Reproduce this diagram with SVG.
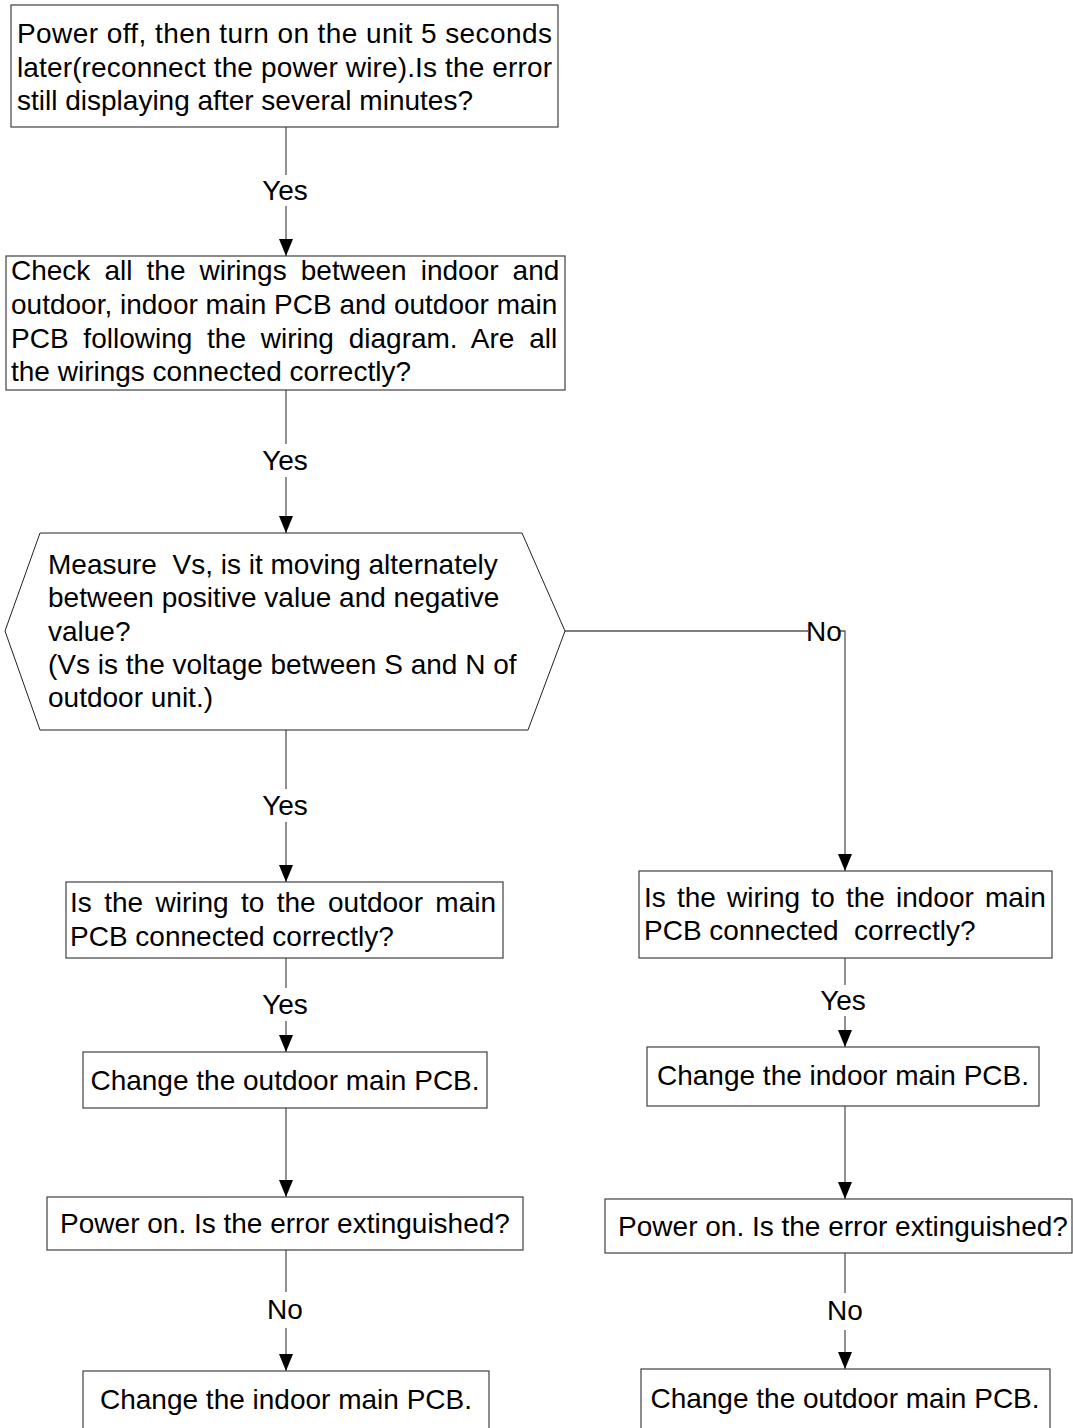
<svg xmlns="http://www.w3.org/2000/svg" width="1073" height="1428" viewBox="0 0 1073 1428">
<style>
text{font-family:"Liberation Sans",Arial,sans-serif;font-size:28px;fill:#000}
.box{fill:#fff;stroke:#404040;stroke-width:1.2}
.hex{fill:#fff;stroke:#222;stroke-width:1}
.c{fill:none;stroke:#555;stroke-width:1.3}
.lbl{text-anchor:middle}
.mid{text-anchor:middle}
</style>
<defs>
<marker id="ad" markerUnits="userSpaceOnUse" markerWidth="17" markerHeight="14" refX="17" refY="7" orient="auto" viewBox="0 0 17 14">
<path d="M0,0 L17,7 L0,14 Z" fill="#000"/>
</marker>
</defs>
<rect width="1073" height="1428" fill="#fff"/>

<g id="connectors">
<line class="c" x1="286" y1="127" x2="286" y2="175"/>
<line class="c" x1="286" y1="206" x2="286" y2="256" marker-end="url(#ad)"/>
<text class="lbl" x="285" y="200">Yes</text>

<line class="c" x1="286" y1="390" x2="286" y2="444"/>
<line class="c" x1="286" y1="477" x2="286" y2="533" marker-end="url(#ad)"/>
<text class="lbl" x="285" y="470">Yes</text>

<line class="c" x1="286" y1="730" x2="286" y2="789"/>
<line class="c" x1="286" y1="822" x2="286" y2="882" marker-end="url(#ad)"/>
<text class="lbl" x="285" y="815">Yes</text>

<polyline class="c" points="565,631 808,631"/>
<polyline class="c" points="840,631 845,631 845,871" marker-end="url(#ad)"/>
<text class="lbl" x="824" y="641">No</text>

<line class="c" x1="286" y1="958" x2="286" y2="988"/>
<line class="c" x1="286" y1="1021" x2="286" y2="1052" marker-end="url(#ad)"/>
<text class="lbl" x="285" y="1014">Yes</text>

<line class="c" x1="286" y1="1108" x2="286" y2="1197" marker-end="url(#ad)"/>

<line class="c" x1="286" y1="1250" x2="286" y2="1292"/>
<line class="c" x1="286" y1="1328" x2="286" y2="1371" marker-end="url(#ad)"/>
<text class="lbl" x="285" y="1319">No</text>

<line class="c" x1="845" y1="958" x2="845" y2="985"/>
<line class="c" x1="845" y1="1016" x2="845" y2="1047" marker-end="url(#ad)"/>
<text class="lbl" x="843" y="1010">Yes</text>

<line class="c" x1="845" y1="1106" x2="845" y2="1199" marker-end="url(#ad)"/>

<line class="c" x1="845" y1="1253" x2="845" y2="1293"/>
<line class="c" x1="845" y1="1330" x2="845" y2="1369" marker-end="url(#ad)"/>
<text class="lbl" x="845" y="1320">No</text>
</g>

<g id="n1">
<rect class="box" x="11" y="5" width="547" height="122"/>
<text x="17" y="43" textLength="535" lengthAdjust="spacing">Power off, then turn on the unit 5 seconds</text>
<text x="17" y="77" textLength="535" lengthAdjust="spacing">later(reconnect the power wire).Is the error</text>
<text x="17" y="110">still displaying after several minutes?</text>
</g>

<g id="n2">
<rect class="box" x="6" y="256" width="559" height="134"/>
<text x="11" y="280" word-spacing="6.3">Check all the wirings between indoor and</text>
<text x="11" y="314">outdoor, indoor main PCB and outdoor main</text>
<text x="11" y="348" word-spacing="7">PCB following the wiring diagram. Are all</text>
<text x="11" y="381">the wirings connected correctly?</text>
</g>

<g id="n3">
<polygon class="hex" points="40,533 522,533 565,631 528,730 40,730 5,631"/>
<text x="48" y="574" xml:space="preserve">Measure  Vs, is it moving alternately</text>
<text x="48" y="607">between positive value and negative</text>
<text x="48" y="641">value?</text>
<text x="48" y="674">(Vs is the voltage between S and N of</text>
<text x="48" y="707">outdoor unit.)</text>
</g>

<g id="n4">
<rect class="box" x="66" y="882" width="437" height="76"/>
<text x="70" y="912" word-spacing="4.6">Is the wiring to the outdoor main</text>
<text x="70" y="946">PCB connected correctly?</text>
</g>

<g id="n5">
<rect class="box" x="83" y="1052" width="404" height="56"/>
<text class="mid" x="285" y="1090">Change the outdoor main PCB.</text>
</g>

<g id="n6">
<rect class="box" x="47" y="1197" width="476" height="53"/>
<text class="mid" x="285" y="1233">Power on. Is the error extinguished?</text>
</g>

<g id="n7">
<rect class="box" x="83" y="1371" width="406" height="62"/>
<text class="mid" x="286" y="1409">Change the indoor main PCB.</text>
</g>

<g id="n8">
<rect class="box" x="639" y="871" width="413" height="87"/>
<text x="644" y="907" word-spacing="3.4">Is the wiring to the indoor main</text>
<text x="644" y="940" xml:space="preserve">PCB connected  correctly?</text>
</g>

<g id="n9">
<rect class="box" x="647" y="1047" width="392" height="59"/>
<text class="mid" x="843" y="1085">Change the indoor main PCB.</text>
</g>

<g id="n10">
<rect class="box" x="605" y="1199" width="467" height="54"/>
<text class="mid" x="843" y="1236">Power on. Is the error extinguished?</text>
</g>

<g id="n11">
<rect class="box" x="641" y="1369" width="409" height="64"/>
<text class="mid" x="845" y="1408">Change the outdoor main PCB.</text>
</g>
</svg>
